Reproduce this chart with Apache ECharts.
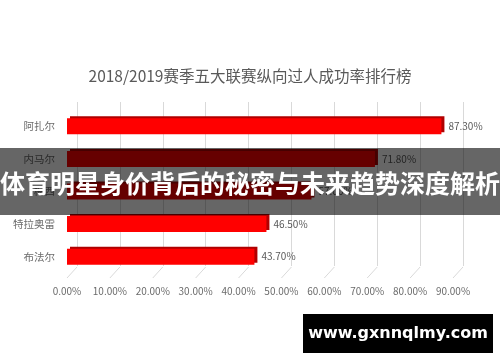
<!DOCTYPE html>
<html><head><meta charset="utf-8">
<script src="https://cdn.jsdelivr.net/npm/echarts@6/dist/echarts.min.js"></script>
<style>html,body{margin:0;padding:0;background:#fff}#c{width:500px;height:362px}</style>
</head><body><div id="c"></div>
<script>
var title = '2018/2019赛季五大联赛纵向过人成功率排行榜';
var players = ['阿扎尔', '内马尔', '梅西', '特拉奥雷', '布法尔'];
var rates = [87.3, 71.8, 57.0, 46.5, 43.7];
var tickValues = [0, 10, 20, 30, 40, 50, 60, 70, 80, 90];
var bannerText = '体育明星身价背后的秘密与未来趋势深度解析';
var watermark = 'www.gxnnqlmy.com';

var F = '"Noto Sans CJK SC", "Noto Sans", sans-serif';
var chart = echarts.init(document.getElementById('c'));
var axisMax = tickValues[tickValues.length - 1];
var step = tickValues[1] - tickValues[0];

chart.setOption({
  animation: false,
  title: { text: title, left: 'center', top: 63,
    textStyle: { fontFamily: F, fontSize: 15.5, fontWeight: 'normal', color: '#595959' } },
  grid: [
    { left: 67, width: 386, top: 110, bottom: 89 },
    { left: 77, width: 386, top: 102, bottom: 96 }
  ],
  xAxis: [
    { gridIndex: 0, type: 'value', min: 0, max: axisMax, interval: step,
      axisLine: { show: false }, axisTick: { show: false }, splitLine: { show: false },
      axisLabel: { margin: 13, fontFamily: F, fontSize: 10, color: '#6b6b6b',
        formatter: function (v) { return v.toFixed(2) + '%'; } } },
    { gridIndex: 1, type: 'value', min: 0, max: axisMax, interval: step,
      axisLine: { show: false }, axisTick: { show: false }, axisLabel: { show: false },
      splitLine: { show: true, lineStyle: { color: '#d9d9d9', width: 1 } } }
  ],
  yAxis: [
    { gridIndex: 0, type: 'category', data: players, inverse: true,
      axisLine: { show: false }, axisTick: { show: false },
      axisLabel: { margin: 12, fontFamily: F, fontSize: 10.5, color: '#6b6b6b' } },
    { gridIndex: 1, type: 'category', data: players, inverse: true, show: false }
  ],
  series: [{
    type: 'bar', xAxisIndex: 0, yAxisIndex: 0, data: rates, barWidth: 16, z: 3,
    itemStyle: { color: '#ff0000', shadowColor: '#b00000', shadowOffsetX: 3, shadowOffsetY: -2, shadowBlur: 0 },
    label: { show: true, position: 'right', distance: 7, fontFamily: F, fontSize: 10, color: '#595959',
      formatter: function (p) { return p.value.toFixed(2) + '%'; } }
  }]
});

// floor lines joining back wall to front plane
var g = [];
tickValues.forEach(function (t) {
  var back = chart.convertToPixel({ xAxisIndex: 1 }, t);
  var front = chart.convertToPixel({ xAxisIndex: 0 }, t);
  g.push({ type: 'line', shape: { x1: back, y1: 267, x2: front, y2: 278 },
    style: { stroke: '#d9d9d9', lineWidth: 1 }, z: 1 });
});
// banner overlay
g.push({ type: 'rect', shape: { x: 0, y: 148, width: 500, height: 67 },
  style: { fill: 'rgba(0,0,0,0.6)' }, z: 100 });
g.push({ type: 'text', x: 250, y: 183, z: 101,
  style: { text: bannerText, fill: '#fff', font: 'bold 25px "Noto Sans CJK SC"', align: 'center', verticalAlign: 'middle' } });
g.push({ type: 'rect', shape: { x: 303, y: 314, width: 190, height: 39 }, style: { fill: '#000' }, z: 100 });
g.push({ type: 'text', x: 398, y: 334, z: 101,
  style: { text: watermark, fill: '#fff', font: 'bold 16px "DejaVu Sans"', align: 'center', verticalAlign: 'middle' } });
chart.setOption({ graphic: g });
</script>
</body></html>
